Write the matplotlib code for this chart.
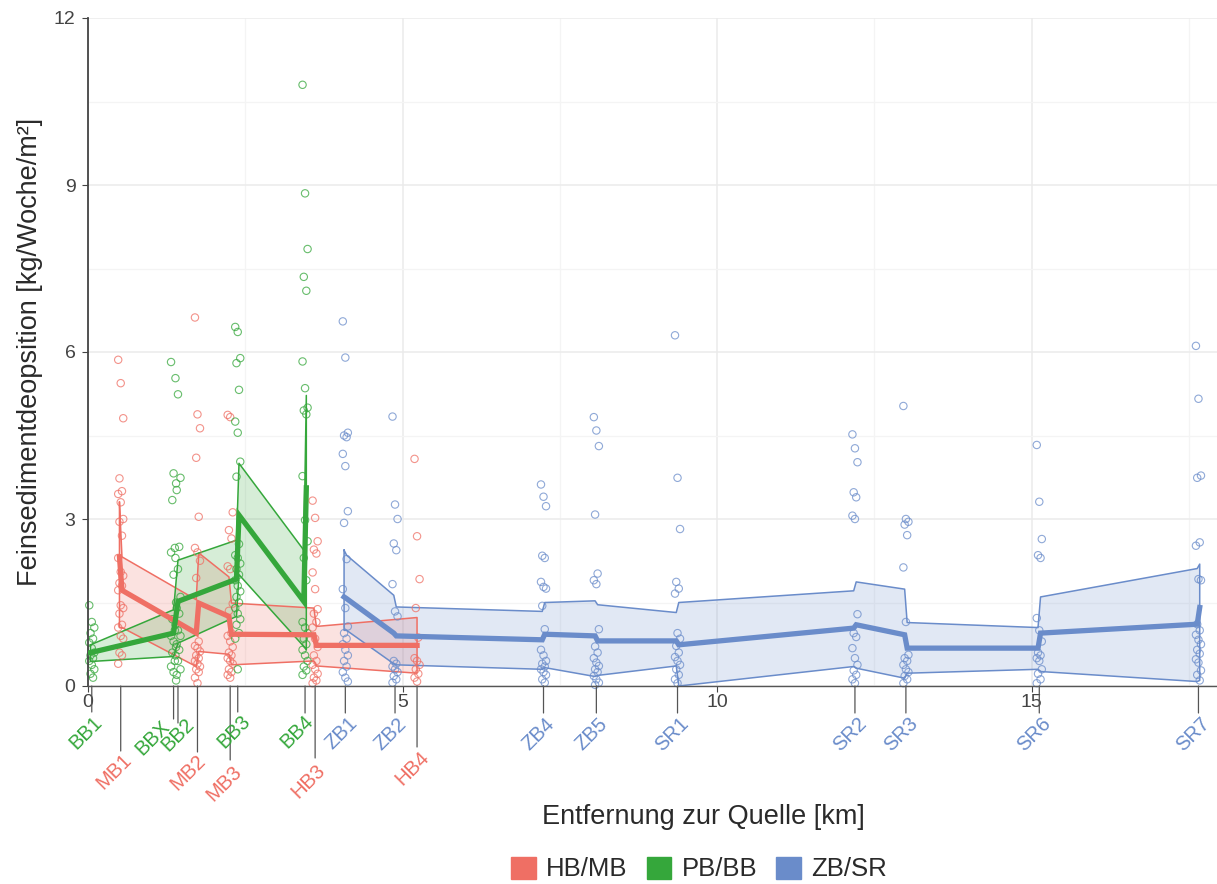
import numpy as np
import matplotlib.pyplot as plt
from matplotlib.patches import Patch

plt.rcParams['font.family'] = ['Liberation Sans', 'DejaVu Sans']

red = '#EF6F64'
green = '#35A73B'
blue = '#6A8CCA'

# stations: name, distance [km], group
stations = ['BB1', 'MB1', 'BBX', 'BB2', 'MB2', 'MB3', 'BB3', 'BB4', 'HB3', 'ZB1',
            'ZB2', 'HB4', 'ZB4', 'ZB5', 'SR1', 'SR2', 'SR3', 'SR6', 'SR7']
station_km = [0.06, 0.52, 1.36, 1.43, 1.74, 2.26, 2.38, 3.45, 3.61, 4.09,
              4.88, 5.23, 7.24, 8.08, 9.37, 12.19, 13.00, 15.12, 17.65]
station_grp = ['PB/BB', 'HB/MB', 'PB/BB', 'PB/BB', 'HB/MB', 'HB/MB', 'PB/BB', 'PB/BB', 'HB/MB', 'ZB/SR',
               'ZB/SR', 'HB/MB', 'ZB/SR', 'ZB/SR', 'ZB/SR', 'ZB/SR', 'ZB/SR', 'ZB/SR', 'ZB/SR']

# single measurements per station [kg/Woche/m2]
bb1 = [1.45, 1.15, 1.05, 0.95, 0.85, 0.78, 0.68, 0.6, 0.55, 0.5, 0.45, 0.38, 0.3, 0.22, 0.15]
mb1 = [5.86, 5.44, 4.81, 3.73, 3.5, 3.45, 3.3, 3.0, 2.95, 2.7, 2.3, 2.05, 1.98, 1.85, 1.8, 1.72,
       1.45, 1.4, 1.3, 1.1, 1.05, 0.9, 0.85, 0.6, 0.55, 0.4]
bbx = [5.82, 3.82, 3.64, 3.34, 2.48, 2.4, 2.0, 1.5, 1.2, 1.0, 0.9, 0.8, 0.7, 0.6, 0.45, 0.35, 0.25, 0.1]
bb2 = [5.53, 5.24, 3.74, 3.52, 2.5, 2.3, 2.1, 1.6, 1.4, 1.3, 1.1, 1.0, 0.9, 0.75, 0.65, 0.55, 0.45, 0.3, 0.2]
mb2 = [6.62, 4.88, 4.63, 4.1, 3.04, 2.48, 2.4, 2.25, 1.94, 0.8, 0.72, 0.68, 0.62, 0.55, 0.5, 0.45,
       0.4, 0.35, 0.3, 0.25, 0.15, 0.05]
mb3 = [4.87, 4.83, 3.12, 2.8, 2.65, 2.15, 2.1, 1.48, 1.35, 0.95, 0.9, 0.8, 0.7, 0.6, 0.55, 0.5,
       0.45, 0.4, 0.3, 0.25, 0.2, 0.15]
bb3 = [6.45, 6.36, 5.89, 5.8, 5.32, 4.75, 4.55, 4.03, 3.76, 2.55, 2.35, 2.3, 2.2, 2.1, 2.0, 1.9,
       1.8, 1.7, 1.6, 1.5, 1.4, 1.3, 1.2, 1.1, 0.95, 0.85, 0.3]
bb4 = [10.8, 8.85, 7.85, 7.35, 7.1, 5.83, 5.35, 5.0, 4.95, 4.88, 3.77, 2.98, 2.6, 2.3, 1.9, 1.15,
       1.05, 0.95, 0.85, 0.75, 0.65, 0.55, 0.45, 0.35, 0.28, 0.2]
hb3 = [3.33, 3.02, 2.6, 2.45, 2.38, 2.04, 1.74, 1.38, 1.3, 1.15, 1.05, 0.85, 0.7, 0.55, 0.45, 0.38,
       0.3, 0.22, 0.15, 0.1, 0.05]
zb1 = [6.55, 5.9, 4.55, 4.5, 4.47, 4.17, 3.95, 3.14, 2.93, 2.28, 1.74, 1.4, 1.07, 0.95, 0.85, 0.75,
       0.65, 0.55, 0.45, 0.35, 0.25, 0.15, 0.08]
zb2 = [4.84, 3.26, 3.0, 2.56, 2.44, 1.83, 1.34, 1.25, 0.45, 0.4, 0.35, 0.3, 0.25, 0.18, 0.12, 0.06]
hb4 = [4.08, 2.69, 1.92, 1.4, 0.87, 0.5, 0.45, 0.38, 0.3, 0.22, 0.15, 0.08]
zb4 = [3.62, 3.4, 3.23, 2.34, 2.3, 1.87, 1.78, 1.75, 1.44, 1.02, 0.65, 0.55, 0.45, 0.4, 0.35, 0.3,
       0.25, 0.2, 0.12, 0.06]
zb5 = [4.83, 4.59, 4.31, 3.08, 2.02, 1.9, 1.83, 1.02, 0.71, 0.6, 0.5, 0.42, 0.36, 0.3, 0.25, 0.18,
       0.12, 0.06, 0.02]
sr1 = [6.3, 3.74, 2.82, 1.87, 1.75, 1.66, 0.95, 0.85, 0.72, 0.6, 0.52, 0.45, 0.38, 0.3, 0.2, 0.12, 0.05]
sr2 = [4.52, 4.27, 4.02, 3.48, 3.39, 3.06, 3.0, 1.29, 0.95, 0.88, 0.68, 0.5, 0.38, 0.28, 0.2, 0.12, 0.05]
sr3 = [5.03, 3.0, 2.95, 2.9, 2.71, 2.13, 1.15, 0.56, 0.5, 0.45, 0.38, 0.3, 0.25, 0.18, 0.12, 0.05]
sr6 = [4.33, 3.31, 2.64, 2.35, 2.3, 1.22, 1.0, 0.8, 0.6, 0.55, 0.5, 0.45, 0.3, 0.22, 0.12, 0.05]
sr7 = [6.11, 5.16, 3.78, 3.74, 2.58, 2.52, 1.92, 1.9, 1.11, 1.0, 0.92, 0.83, 0.75, 0.65, 0.58, 0.48,
       0.42, 0.28, 0.2, 0.1]
samples = [bb1, mb1, bbx, bb2, mb2, mb3, bb3, bb4, hb3, zb1, zb2, hb4, zb4, zb5, sr1, sr2, sr3, sr6, sr7]

# summary lines (median and band) per group
hb_x = [0.50, 0.54, 1.72, 1.76, 2.24, 2.28, 3.59, 3.63, 5.23]
hb_hi = [3.30, 2.32, 1.55, 2.39, 1.96, 1.49, 1.40, 1.07, 1.23]
hb_med = [2.32, 1.72, 0.95, 1.49, 1.25, 0.93, 0.92, 0.73, 0.73]
hb_lo = [1.05, 1.05, 0.35, 0.62, 0.57, 0.38, 0.45, 0.36, 0.23]

bb_x = [0.04, 1.36, 1.43, 2.36, 2.40, 3.43, 3.47]
bb_hi = [0.74, 1.37, 2.26, 2.62, 4.00, 2.44, 5.22]
bb_med = [0.60, 0.95, 1.52, 1.92, 3.07, 1.52, 3.56]
bb_lo = [0.44, 0.53, 0.77, 1.25, 2.00, 0.71, 0.65]

zb_x = [4.07, 4.11, 4.86, 4.90, 7.22, 7.26, 8.06, 8.10, 9.35, 9.39,
        12.17, 12.21, 12.98, 13.02, 15.10, 15.14, 17.63, 17.67]
zb_hi = [2.44, 2.35, 1.63, 1.42, 1.34, 1.50, 1.53, 1.46, 1.32, 1.50,
         1.71, 1.87, 1.74, 1.14, 1.05, 1.60, 2.11, 2.19]
zb_med = [1.60, 1.57, 0.95, 0.90, 0.83, 0.93, 0.90, 0.81, 0.81, 0.74,
          1.04, 1.10, 0.92, 0.68, 0.68, 0.95, 1.11, 1.41]
zb_lo = [1.00, 1.00, 0.40, 0.38, 0.30, 0.33, 0.17, 0.19, 0.36, 0.00,
         0.35, 0.32, 0.14, 0.23, 0.30, 0.26, 0.08, 0.10]

groups = ['HB/MB', 'PB/BB', 'ZB/SR']
colors = {'HB/MB': red, 'PB/BB': green, 'ZB/SR': blue}

# label layout (pixels below the axis): leader length, text depth, text x shift
lead_px = [26, 65, 33, 37, 66, 74, 26, 27, 72, 27, 27, 61, 27, 27, 27, 27, 27, 27, 27]
text_px = [47, 86, 52, 49, 87, 97, 46, 46, 95, 47, 48, 82, 48, 48, 48, 48, 48, 48, 48]
shift_px = [-6, -7, -21, 0, -9, -6, -4, -8, -7, -4, -5, -5, -5, -5, -5, -5, -5, -5, -5]
jit = [-0.04, 0.0, 0.04, -0.02, 0.02]

W, H = 1217, 884
fig = plt.figure(figsize=(W / 100, H / 100), dpi=100)
ax = fig.add_axes([88 / W, (H - 686) / H, (1318 - 88) / W, (686 - 18) / H])
ax.set_xlim(0, 19.55)
ax.set_ylim(0, 12)

# scatter of single values
for name, km, grp, vals in zip(stations, station_km, station_grp, samples):
    xs = [km + jit[i % len(jit)] for i in range(len(vals))]
    ax.scatter(xs, vals, s=28, facecolors='none', edgecolors=colors[grp],
               linewidths=0.8, alpha=0.75, zorder=2.5, clip_on=False)

# bands and median lines
for grp, x, lo, med, hi in [('HB/MB', hb_x, hb_lo, hb_med, hb_hi),
                            ('PB/BB', bb_x, bb_lo, bb_med, bb_hi),
                            ('ZB/SR', zb_x, zb_lo, zb_med, zb_hi)]:
    c = colors[grp]
    x = np.array(x)
    ax.fill(np.r_[x, x[::-1]], np.r_[hi, lo[::-1]], facecolor=c, alpha=0.2,
            edgecolor='none', zorder=2)
    ax.plot(np.r_[x, x[::-1], x[0]], np.r_[hi, lo[::-1], hi[0]], color=c, lw=1.1, zorder=2.2)
    ax.plot(x, med, color=c, lw=3.8, zorder=3, solid_joinstyle='miter')

# axes styling
ax.set_yticks([0, 3, 6, 9, 12])
ax.set_yticks([1.5, 4.5, 7.5, 10.5], minor=True)
ax.set_xticks([0, 5, 10, 15])
ax.set_xticks([2.5, 7.5, 12.5, 17.5], minor=True)
ax.grid(which='major', color='#EBEBEB', lw=1.1)
ax.grid(which='minor', color='#F4F4F4', lw=0.9)
ax.set_axisbelow(True)
for s in ['top', 'right']:
    ax.spines[s].set_visible(False)
ax.spines['left'].set_color('#444444')
ax.spines['left'].set_linewidth(1.3)
ax.spines['bottom'].set_color('#555555')
ax.spines['bottom'].set_linewidth(1.0)
ax.tick_params(which='major', length=4, color='#444444', labelsize=14, labelcolor='#444444')
ax.tick_params(axis='x', pad=2)
ax.tick_params(axis='y', pad=5)
ax.tick_params(which='minor', length=0)

# station labels with leader lines
for name, km, grp, lp, tp, sp in zip(stations, station_km, station_grp, lead_px, text_px, shift_px):
    ax.annotate('', xy=(km, 0), xytext=(0, -lp * 0.72), textcoords='offset points',
                arrowprops=dict(arrowstyle='-', color='#555555', lw=0.9, shrinkA=0, shrinkB=0),
                annotation_clip=False)
    ax.annotate(name, xy=(km, 0), xytext=(sp * 0.72, -tp * 0.72), textcoords='offset points',
                rotation=45, ha='center', va='center', color=colors[grp], fontsize=14.5,
                annotation_clip=False)

fig.text(30 / W, 1 - 352 / H, 'Feinsedimentdeopsition [kg/Woche/m²]', rotation=90,
         ha='center', va='center', fontsize=19.5, color='#2a2a2a')
fig.text(703 / W, 1 - 817 / H, 'Entfernung zur Quelle [km]', ha='center', va='center',
         fontsize=19.5, color='#2a2a2a')

handles = [Patch(facecolor=colors[g], edgecolor=colors[g], label=g) for g in groups]
fig.legend(handles=handles, loc='center', bbox_to_anchor=(699 / W, 1 - 869 / H), ncol=3,
           frameon=False, fontsize=18.5, handlelength=0.95, handleheight=0.95,
           handletextpad=0.4, columnspacing=0.75, labelcolor='#2a2a2a')

fig.savefig('out.png', dpi=100)
